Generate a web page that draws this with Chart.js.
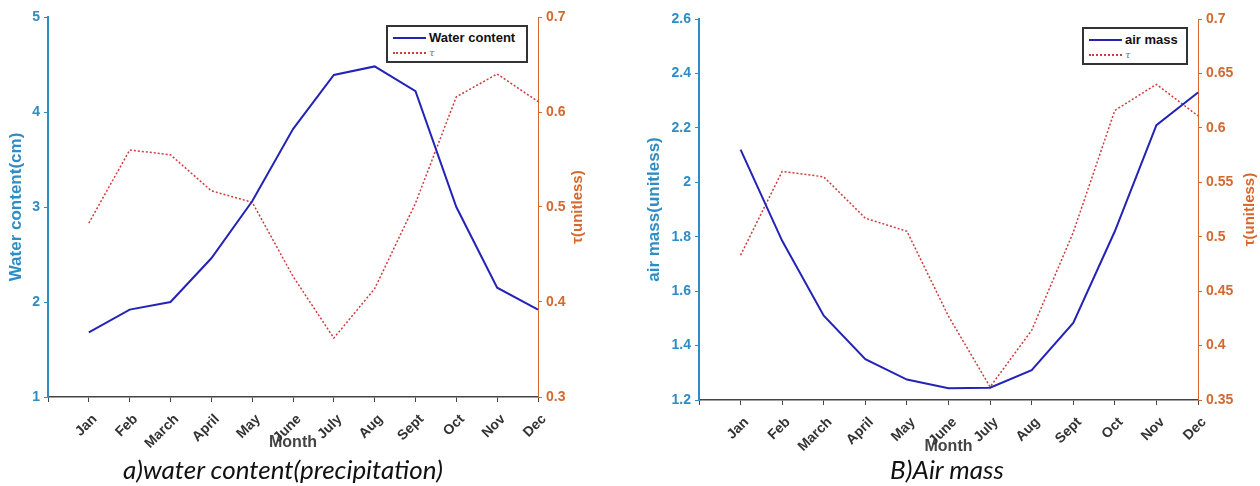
<!DOCTYPE html>
<html>
<head>
<meta charset="utf-8">
<script src="https://cdn.jsdelivr.net/npm/chart.js@4.4.0/dist/chart.umd.min.js"></script>
<style>
    body { margin: 0; background: #fff; width: 1260px; height: 486px; position: relative; overflow: hidden; }
    .panel { position: absolute; top: 0; }
    .caption {
        position: absolute; top: 453px; text-align: center;
        font-family: Lato, "Open Sans", sans-serif; font-style: italic; font-size: 26px; color: #111;
    }
    .legend { position: absolute; border: 2px solid #333; background: #fff; box-sizing: border-box; padding-top: 3px; }
    .legend .row { height: 15px; display: flex; align-items: center; }
    .legend .sample { display: inline-block; width: 33px; height: 0; margin: 0 3px 0 5px; }
    .legend .name { font: bold 13px "Liberation Sans", Arial, sans-serif; color: #111; }
    .legend .tau { font: italic 10px "DejaVu Serif", serif; color: #777; }
</style>
</head>
<body>
<canvas id="waterChart" class="panel" style="left:0px" width="620" height="455"></canvas>
<canvas id="airChart" class="panel" style="left:630px" width="630" height="460"></canvas>
<div id="waterLegend" class="legend" style="left:386px;top:25px;width:142px;height:38px"></div>
<div id="airLegend" class="legend" style="left:1082px;top:27px;width:106px;height:38px"></div>
<div class="caption" style="left:83px;width:400px">a)water content(precipitation)</div>
<div class="caption" style="left:747px;width:400px">B)Air mass</div>

<script>
// values
const months = ['Jan', 'Feb', 'March', 'April', 'May', 'June', 'July', 'Aug', 'Sept', 'Oct', 'Nov', 'Dec'];
const waterContent = [1.68, 1.92, 2.00, 2.46, 3.06, 3.82, 4.39, 4.48, 4.22, 3.00, 2.15, 1.92];
const airMass = [2.12, 1.785, 1.51, 1.35, 1.275, 1.243, 1.245, 1.31, 1.483, 1.82, 2.21, 2.33];
const tau = [0.483, 0.560, 0.555, 0.517, 0.505, 0.427, 0.362, 0.414, 0.504, 0.616, 0.640, 0.611];

const waterTicks = [1, 2, 3, 4, 5];
const tauTicksA = [0.3, 0.4, 0.5, 0.6, 0.7];
const airTicks = [1.2, 1.4, 1.6, 1.8, 2, 2.2, 2.4, 2.6];
const tauTicksB = [0.35, 0.4, 0.45, 0.5, 0.55, 0.6, 0.65, 0.7];

const FONT = '"Liberation Sans", Arial, sans-serif';
const AXIS_BLUE = '#2f8cc4';
const AXIS_ORANGE = '#d4682e';
const LINE_BLUE = '#2323b8';
const TAU_RED = '#cf3a3a';

const fmt = v => String(Math.round(v * 100) / 100);

// MATLAB writes the right y label bottom-to-top, Chart.js would turn it the other way
const rightTitle = {
    id: 'rightTitle',
    afterDraw(chart, args, opts) {
        const s = chart.scales.y1;
        const ctx = chart.ctx;
        ctx.save();
        ctx.translate(s.right - opts.offset, (chart.chartArea.top + chart.chartArea.bottom) / 2);
        ctx.rotate(-Math.PI / 2);
        ctx.font = 'bold 15px ' + FONT;
        ctx.fillStyle = AXIS_ORANGE;
        ctx.textAlign = 'center';
        ctx.textBaseline = 'middle';
        ctx.fillText(s.options.title.text, 0, 0);
        ctx.restore();
    }
};

function yAxis(side, ticks, color, title, width, titlePad, borderWidth) {
    return {
        position: side,
        min: ticks[0],
        max: ticks[ticks.length - 1],
        afterBuildTicks: scale => { scale.ticks = ticks.map(v => ({ value: v })); },
        ticks: { color: color, font: { family: FONT, size: 14, weight: 'bold' }, padding: 4, callback: fmt },
        grid: { drawOnChartArea: false, tickLength: 4, color: color },
        border: { color: color, width: borderWidth },
        title: { display: side === 'left', text: title, color: color, font: { family: FONT, size: 17, weight: 'bold' }, padding: { top: titlePad, bottom: 0 } },
        afterFit: scale => { scale.width = width; }
    };
}

function buildChart(id, cfg) {
    return new Chart(document.getElementById(id), {
        type: 'line',
        data: {
            labels: [''].concat(months),
            datasets: [
                { label: cfg.label, data: [null].concat(cfg.values), borderColor: LINE_BLUE, borderWidth: 2, pointRadius: 0, yAxisID: 'y' },
                { label: 'τ', data: [null].concat(tau), borderColor: TAU_RED, borderWidth: 1.5, borderDash: [2, 2], pointRadius: 0, yAxisID: 'y1' }
            ]
        },
        options: {
            responsive: false,
            animation: false,
            layout: { padding: { top: cfg.top, left: 0, right: 0, bottom: 0 } },
            plugins: {
                legend: { display: false },
                tooltip: { enabled: false },
                rightTitle: { offset: cfg.y1TitleOffset }
            },
            scales: {
                x: {
                    offset: false,
                    grid: { drawOnChartArea: false, tickLength: 5, color: '#444' },
                    border: { color: '#444', width: 1.5 },
                    ticks: { autoSkip: false, minRotation: 45, maxRotation: 45, padding: 9, labelOffset: 6, color: '#333', font: { family: FONT, size: 14, weight: 'bold' } },
                    title: { display: true, text: 'Month', color: '#444', font: { family: FONT, size: 16, weight: 'bold' }, padding: { top: 0, bottom: cfg.monthPad } },
                    afterFit: scale => { scale.height = cfg.xHeight; }
                },
                y: yAxis('left', cfg.leftTicks, AXIS_BLUE, cfg.yTitle, cfg.yWidth, cfg.yTitlePad, 2),
                y1: yAxis('right', cfg.rightTicks, AXIS_ORANGE, 'τ(unitless)', cfg.y1Width, 0, 1)
            }
        },
        plugins: [rightTitle]
    });
}

function buildLegend(chart, el) {
    chart.data.datasets.forEach(ds => {
        const row = document.createElement('div');
        row.className = 'row';
        const sample = document.createElement('span');
        sample.className = 'sample';
        sample.style.borderTop = (ds.borderDash ? '2px dotted ' : '2px solid ') + ds.borderColor;
        const text = document.createElement('span');
        text.className = ds.borderDash ? 'tau' : 'name';
        text.textContent = ds.label;
        row.append(sample, text);
        el.appendChild(row);
    });
}

const waterChart = buildChart('waterChart', {
    label: 'Water content', values: waterContent, yTitle: 'Water content(cm)',
    leftTicks: waterTicks, rightTicks: tauTicksA,
    top: 17, xHeight: 58, monthPad: 3,
    yWidth: 48, yTitlePad: 6, y1Width: 82, y1TitleOffset: 42
});

const airChart = buildChart('airChart', {
    label: 'air mass', values: airMass, yTitle: 'air mass(unitless)',
    leftTicks: airTicks, rightTicks: tauTicksB,
    top: 19, xHeight: 60, monthPad: 4,
    yWidth: 69, yTitlePad: 14, y1Width: 62, y1TitleOffset: 10
});

buildLegend(waterChart, document.getElementById('waterLegend'));
buildLegend(airChart, document.getElementById('airLegend'));
</script>
</body>
</html>
